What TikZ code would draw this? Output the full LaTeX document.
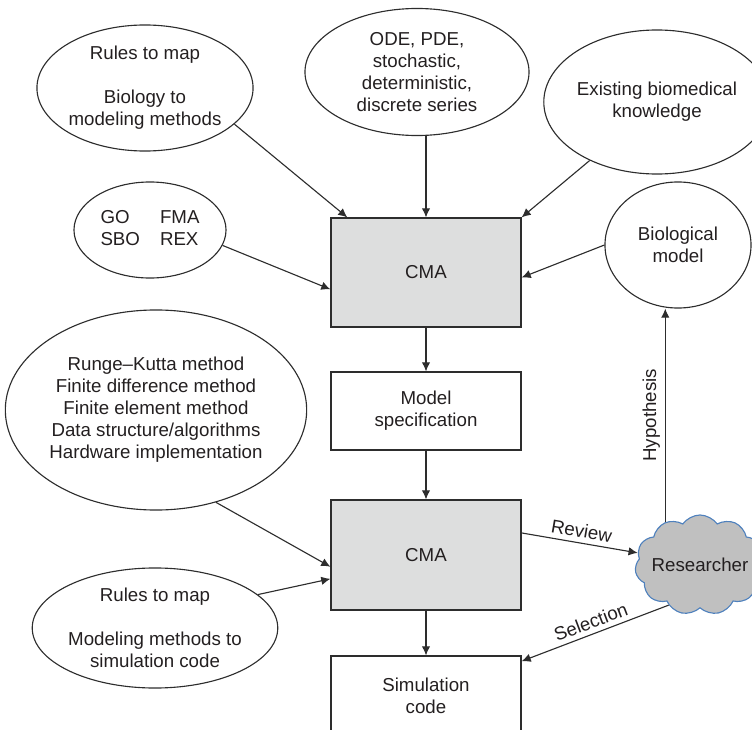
\documentclass[tikz,border=0pt]{standalone}
\usepackage{fontspec}
\setmainfont{Liberation Sans}
\usepackage{tikz}
\usetikzlibrary{shapes.geometric,shapes.symbols,arrows.meta}
\definecolor{ink}{RGB}{35,31,32}
\definecolor{wire}{RGB}{45,45,45}
\definecolor{cmagray}{RGB}{221,222,222}
\definecolor{cloudgray}{RGB}{192,192,192}
\definecolor{cloudblue}{RGB}{79,129,189}
\tikzset{
  txt/.style={font=\fontsize{13.3pt}{15.6pt}\selectfont, text=ink, align=center},
  oval/.style={txt, ellipse, draw=wire, line width=0.8pt, inner sep=0pt},
  block/.style={txt, rectangle, draw=wire, line width=0.8pt, minimum width=4.75cm},
  feed/.style={draw=wire, line width=0.8pt, -{Latex[length=6.5pt,width=6pt]}},
}

\begin{document}
\begin{tikzpicture}[x=0.025cm, y=-0.025cm]
\useasboundingbox (0,0) rectangle (752,730);
\clip (0,0) rectangle (752,730);
% ellipses
\node[oval, minimum width=5.35cm, minimum height=3.15cm] (mapbio) at (145,88) {Rules to map\\[15.6pt]Biology to\\modeling methods};
\node[oval, minimum width=5.6cm, minimum height=3.175cm] (methods) at (417,72) {ODE, PDE,\\stochastic,\\deterministic,\\discrete series};
\node[oval, minimum width=4.85cm, minimum height=3.6cm] (knowledge) at (657,102) {Existing biomedical\\knowledge};
\node[oval, minimum width=3.8cm, minimum height=2.4cm] (onto) at (150,230) {\begin{tabular}{@{}l@{\hspace{0.5cm}}l@{}}GO&FMA\\SBO&REX\end{tabular}};
\node[oval, minimum width=3.65cm, minimum height=3.15cm] (biomodel) at (678,245) {Biological\\model};
\node[oval, minimum width=7.15cm, minimum height=5cm] (numerics) at (156,410) {Runge--Kutta method\\Finite difference method\\Finite element method\\Data structure/algorithms\\Hardware implementation};
\node[oval, minimum width=5.6cm, minimum height=3cm] (mapsim) at (155,628) {Rules to map\\[15.6pt]Modeling methods to\\simulation code};
% boxes
\node[block, fill=cmagray, minimum height=2.725cm] (cmaA) at (426,272.5) {CMA};
\node[block, minimum height=1.95cm] (spec) at (426,411) {Model\\specification};
\node[block, fill=cmagray, minimum height=2.75cm] (cmaB) at (426,555) {CMA};
\node[block, minimum height=2cm] (simcode) at (426,696) {Simulation\\code};
\node[cloud, cloud puffs=11, cloud puff arc=110, aspect=1.3, draw=cloudblue, fill=cloudgray, line width=0.8pt, minimum width=3.25cm, minimum height=2.5cm, inner sep=0pt, label={[txt]center:Researcher}] (researcher) at (700,565) {};
% connectors
\draw[feed] (mapbio.-22) -- (cmaA.145);
\draw[feed] (methods.south -| cmaA.north) -- (cmaA.north);
\draw[feed] (knowledge.221) -- (cmaA.north east);
\draw[feed] (onto.-12) -- (cmaA.190);
\draw[feed] (biomodel.west) -- (cmaA.-3);
\draw[feed] (cmaA.south) -- (spec.north);
\draw[feed] (spec.south) -- (cmaB.north);
\draw[feed] (numerics.-57) -- (cmaB.187);
\draw[feed] (mapsim.18) -- (cmaB.194);
\draw[feed] (cmaB.south) -- (simcode.north);
\draw[feed] (cmaB.13.6) -- node[txt, above, sloped] {Review} (researcher.169);
\draw[feed] (researcher.232) -- node[txt, above, sloped] {Selection} (simcode.20);
\draw[feed] (researcher.129) -- node[txt, above, sloped] {Hypothesis} (researcher.129 |- biomodel.south);
\end{tikzpicture}
\end{document}
